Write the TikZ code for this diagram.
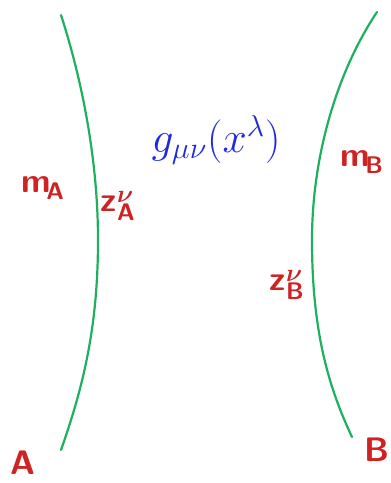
\documentclass[tikz,border=0pt]{standalone}
\usepackage{fontspec}
\usepackage{graphicx}
\setmainfont{DejaVu Sans}
\DeclareMathSizes{34}{34}{24}{18}
\begin{document}
\begin{tikzpicture}[x=1pt,y=-1pt,
  world/.style={draw=wlgreen,line width=2.2pt,line cap=round},
  redlab/.style={text=lblred,font=\fontsize{34}{36}\selectfont\boldmath,inner sep=0pt},
  bluelab/.style={text=lblblue,font=\fontsize{24}{26}\selectfont,inner sep=0pt}]
\definecolor{wlgreen}{RGB}{30,175,95}
\definecolor{lblred}{RGB}{205,35,35}
\definecolor{lblblue}{RGB}{30,40,225}
\useasboundingbox (0,0) rectangle (391,483);
% world lines
\coordinate (a0) at (61,15);
\coordinate (a1) at (98,240);
\coordinate (a2) at (61,450);
\coordinate (b0) at (377,12);
\coordinate (b1) at (312,240);
\coordinate (b2) at (352,437);
\draw[world] (a0) .. controls (82,80) and (98,160) .. (a1)
                  .. controls (98,330) and (82,390) .. (a2);
\draw[world] (b0) .. controls (335,75) and (312,160) .. (b1)
                  .. controls (312,335) and (330,390) .. (b2);
% labels
\node[bluelab] (g) at (216,140) {\scalebox{1.75}{$g_{\mu\nu}(x^\lambda)$}};
\node[redlab] (mA) at (43,188) {$\mathsf{m}_{\!\mathsf{A}}$};
\node[redlab] (zA) at (118,206) {$\mathsf{z}_{\mathsf{A}}^{\nu}$};
\node[redlab] (mB) at (362,162) {$\mathsf{m}_{\!\mathsf{B}}$};
\node[redlab] (zB) at (287,285) {$\mathsf{z}_{\mathsf{B}}^{\nu}$};
\node[redlab] (A) at (23,463) {$\mathsf{A}$};
\node[redlab] (B) at (377,450) {$\mathsf{B}$};
\end{tikzpicture}
\end{document}
